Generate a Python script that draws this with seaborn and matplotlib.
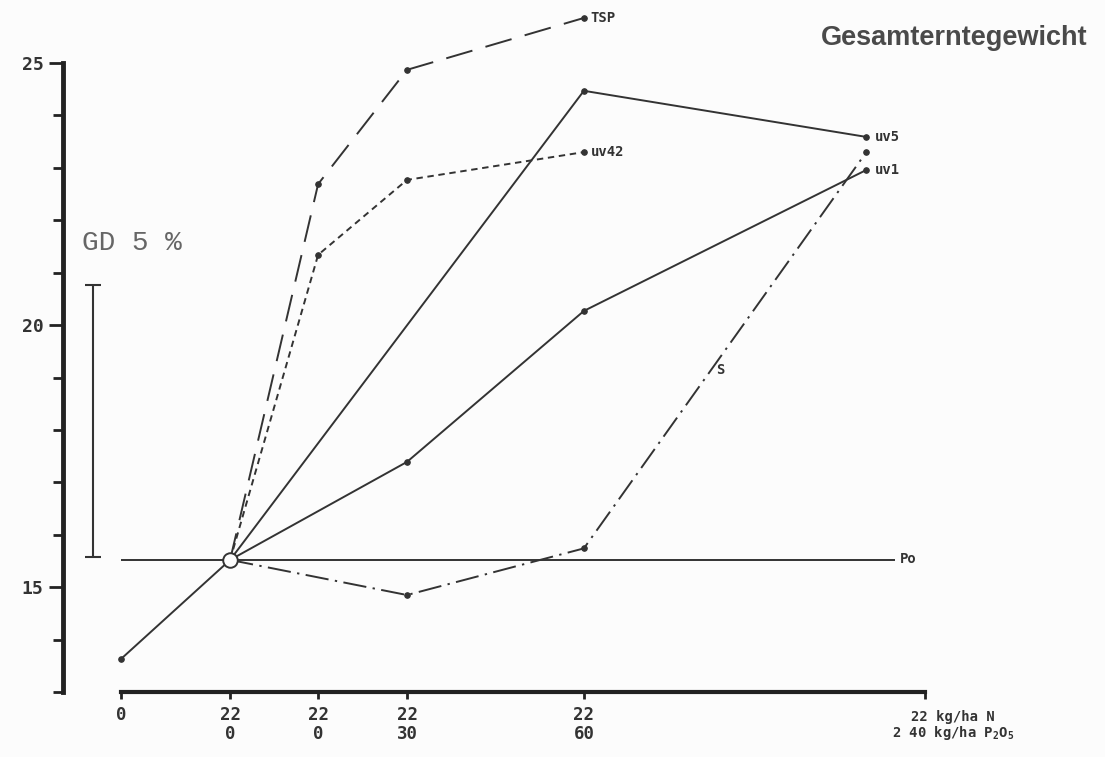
import matplotlib

matplotlib.use("Agg")
import matplotlib.pyplot as plt  # noqa: E402
import numpy as np  # noqa: E402
import pandas as pd  # noqa: E402
import seaborn as sns  # noqa: E402

# irregular x scale: 0 | 22/0 | 22/0 | 22/30 | 22/60 | 22/240 (kg/ha N / P2O5)
x_steps = [0, 1.24, 2.24, 3.25, 5.26, 8.47]
x_tick_pos = [0, 1.24, 2.24, 3.25, 5.26, 9.14]
x_tick_labels = ["0", "22\n0", "22\n0", "22\n30", "22\n60", ""]

y_control = 13.63   # unfertilised
y_po = 15.52        # Po, common starting point

base_steps, base_vals = [0, 1], [y_control, y_po]
tsp_steps, tsp_vals = [1, 2, 3, 4], [15.52, 22.69, 24.87, 25.86]
uv42_steps, uv42_vals = [1, 2, 3, 4], [15.52, 21.34, 22.77, 23.30]
uv5_steps, uv5_vals = [1, 4, 5], [15.52, 24.47, 23.59]
uv1_steps, uv1_vals = [1, 3, 4, 5], [15.52, 17.39, 20.27, 22.96]
s_steps, s_vals = [1, 3, 4, 5], [15.52, 14.85, 15.74, 23.30]

gd_low, gd_high = 15.57, 20.76   # GD 5 %

INK = "#333333"
BG = "#fcfcfc"

sns.set_theme(style="white", context="notebook")
plt.rcParams["font.family"] = ["DejaVu Sans Mono", "DejaVu Sans"]
plt.rcParams["mathtext.default"] = "regular"

series = {
    "base": (base_steps, base_vals),
    "TSP": (tsp_steps, tsp_vals),
    "uv42": (uv42_steps, uv42_vals),
    "uv5": (uv5_steps, uv5_vals),
    "uv1": (uv1_steps, uv1_vals),
    "S": (s_steps, s_vals),
}
df = pd.concat(
    [pd.DataFrame({"series": k, "x": [x_steps[i] for i in st], "y": v})
     for k, (st, v) in series.items()],
    ignore_index=True,
)
dash_map = {
    "base": "",
    "TSP": (14, 7),
    "uv42": (3.3, 2.4),
    "uv5": "",
    "uv1": "",
    "S": (12, 3.3, 1.2, 3.3),
}

fig = plt.figure(figsize=(11.05, 7.57), dpi=100, facecolor=BG)
ax = fig.add_axes([63 / 1105, 65 / 757, 1 - 63 / 1105, 692 / 757])
ax.set_facecolor(BG)

sns.lineplot(
    data=df, x="x", y="y", style="series", dashes=dash_map,
    estimator=None, sort=False, legend=False, ax=ax,
    color=INK, lw=1.4, marker="o", ms=4, mec=INK, mfc=INK,
)

# Po reference line and the common start point
ax.hlines(y_po, x_tick_pos[0], x_steps[-1] + 0.33, color=INK, lw=1.4)
ax.scatter([x_steps[1]], [y_po], s=110, facecolor=BG, edgecolor=INK,
           lw=1.4, zorder=5)

# GD 5 % bar
gd_x = -0.32
ax.errorbar(gd_x, (gd_low + gd_high) / 2, yerr=(gd_high - gd_low) / 2,
            color=INK, lw=1.5, capsize=6, capthick=1.5)
ax.text(-0.44, 21.56, "GD 5 %", family="Liberation Mono", fontsize=20,
        color="#666666", va="center", ha="left")

# end-of-line labels
lab_kw = dict(textcoords="offset points", va="center", ha="left",
              fontsize=10, fontweight="bold", color=INK)
ax.annotate("TSP", (x_steps[tsp_steps[-1]], tsp_vals[-1]), xytext=(5, 0), **lab_kw)
ax.annotate("uv42", (x_steps[uv42_steps[-1]], uv42_vals[-1]), xytext=(5, 0), **lab_kw)
ax.annotate("uv5", (x_steps[uv5_steps[-1]], uv5_vals[-1]), xytext=(6, 0), **lab_kw)
ax.annotate("uv1", (x_steps[uv1_steps[-1]], uv1_vals[-1]), xytext=(6, 0), **lab_kw)
ax.annotate("Po", (x_steps[-1] + 0.33, y_po), xytext=(3, 1), **lab_kw)
t = 0.45
sx = x_steps[s_steps[-2]] + t * (x_steps[s_steps[-1]] - x_steps[s_steps[-2]])
sy = s_vals[-2] + t * (s_vals[-1] - s_vals[-2])
ax.annotate("S", (sx, sy), xytext=(4, 0), **lab_kw)

# axes
ax.set_xlim((63 - 121) / 88, (1105 - 121) / 88)
ax.set_ylim(13.0, 25 + 63 / 52.4)
ax.set_xlabel("")
ax.set_ylabel("")
for side in ("top", "right"):
    ax.spines[side].set_visible(False)
ax.spines["left"].set_bounds(13, 25)
ax.spines["left"].set_linewidth(3.5)
ax.spines["left"].set_color("#222222")
ax.spines["bottom"].set_bounds(x_tick_pos[0], x_tick_pos[-1])
ax.spines["bottom"].set_linewidth(3)
ax.spines["bottom"].set_color("#222222")

ax.set_yticks([15, 20, 25])
ax.set_yticks(np.arange(13, 26), minor=True)
ax.tick_params(axis="y", which="major", direction="out", length=10, width=2,
               color="#222222", labelsize=13, labelcolor=INK, pad=4, left=True)
ax.tick_params(axis="y", which="minor", direction="out", length=7, width=2,
               color="#222222", left=True)
ax.set_xticks(x_tick_pos)
ax.set_xticklabels(x_tick_labels, linespacing=1.05)
ax.tick_params(axis="x", direction="out", length=5, width=2, color="#222222",
               labelsize=12.5, labelcolor=INK, pad=5, bottom=True)
for lab in ax.get_yticklabels() + ax.get_xticklabels():
    lab.set_fontweight("bold")

ax.annotate("22 kg/ha N\n2 40 kg/ha P$_2$O$_5$", (x_tick_pos[-1], 13.0),
            xytext=(20, -13), textcoords="offset points", ha="center",
            va="top", fontsize=10, fontweight="bold", color=INK,
            linespacing=1.0, annotation_clip=False)

fig.text(1088 / 1105, 1 - 38 / 757, "Gesamterntegewicht", ha="right",
         va="center", fontsize=19.5, fontweight="bold", family="Liberation Sans",
         color="#4a4a4a")

fig.savefig("out.png", dpi=100, facecolor=BG)
